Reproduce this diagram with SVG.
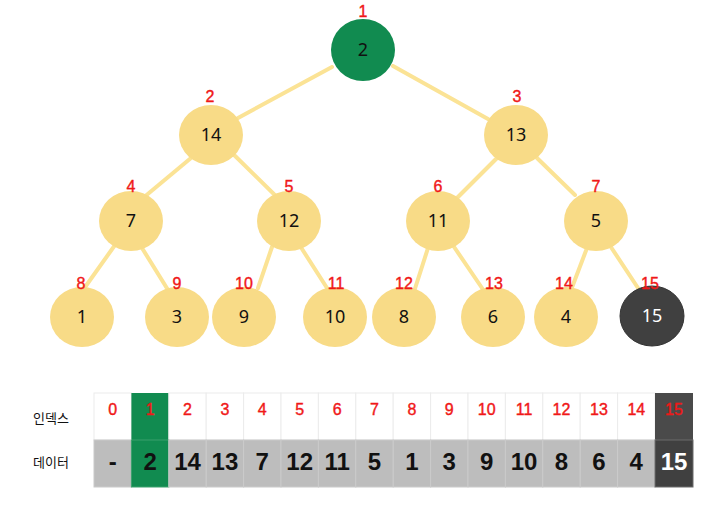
<svg xmlns="http://www.w3.org/2000/svg" width="720" height="518" viewBox="0 0 720 518">
<style>
.nd{fill:#f8db87;}
.gr{fill:#118b50;}
.dk{fill:#404040;stroke:#333;stroke-width:1;}
.nt{font-family:"Noto Sans","Liberation Sans",sans-serif;font-size:18px;fill:#111;text-anchor:middle;}
.ix{font-family:"Liberation Sans",sans-serif;font-size:16px;fill:#f01818;stroke:#f01818;stroke-width:0.4;text-anchor:middle;}
.ln{stroke:#fbe08a;stroke-width:4;stroke-linecap:round;opacity:0.9;}
.c1{fill:#fff;stroke:#ececec;stroke-width:1;}
.c2{fill:#bdbdbd;stroke:#cacaca;stroke-width:1;}
.dt{font-family:"Liberation Sans",sans-serif;font-weight:bold;font-size:24px;fill:#111;text-anchor:middle;}
.nt.wt,.dt.wt{fill:#fff;}
.lb{font-family:"Noto Sans CJK KR",sans-serif;font-size:13px;fill:#111;text-anchor:middle;}
</style>
<rect width="720" height="518" fill="#fff"/>
<g id="connectors">
<line class="ln" x1="332" y1="67" x2="238" y2="118"/>
<line class="ln" x1="393" y1="66" x2="488" y2="119"/>
<line class="ln" x1="203" y1="148" x2="137" y2="203"/>
<line class="ln" x1="227" y1="148" x2="285" y2="205"/>
<line class="ln" x1="503" y1="152" x2="450" y2="205"/>
<line class="ln" x1="537" y1="158" x2="575" y2="195"/>
<line class="ln" x1="120" y1="238" x2="83" y2="290"/>
<line class="ln" x1="142" y1="248" x2="173" y2="298"/>
<line class="ln" x1="272" y1="247" x2="258" y2="288"/>
<line class="ln" x1="295" y1="238" x2="327" y2="288"/>
<line class="ln" x1="428" y1="248" x2="412" y2="298"/>
<line class="ln" x1="448" y1="238" x2="482" y2="288"/>
<line class="ln" x1="587" y1="248" x2="568" y2="298"/>
<line class="ln" x1="603" y1="235" x2="638" y2="288"/>
</g>
<g id="n1"><ellipse class="gr" cx="363" cy="50" rx="32" ry="31"/><text class="nt" x="363" y="56">2</text><text class="ix" x="363" y="17">1</text></g>
<g id="n2"><ellipse class="nd" cx="211" cy="135" rx="32" ry="30"/><text class="nt" x="211" y="141">14</text><text class="ix" x="210" y="102">2</text></g>
<g id="n3"><ellipse class="nd" cx="516" cy="135" rx="32" ry="30"/><text class="nt" x="516" y="141">13</text><text class="ix" x="517" y="102">3</text></g>
<g id="n4"><ellipse class="nd" cx="131" cy="221" rx="32" ry="30"/><text class="nt" x="131" y="227">7</text><text class="ix" x="131" y="192">4</text></g>
<g id="n5"><ellipse class="nd" cx="289" cy="221" rx="32" ry="30"/><text class="nt" x="289" y="227">12</text><text class="ix" x="289" y="192">5</text></g>
<g id="n6"><ellipse class="nd" cx="438" cy="221" rx="32" ry="30"/><text class="nt" x="438" y="227">11</text><text class="ix" x="438" y="192">6</text></g>
<g id="n7"><ellipse class="nd" cx="596" cy="221" rx="32" ry="30"/><text class="nt" x="596" y="227">5</text><text class="ix" x="596" y="192">7</text></g>
<g id="n8"><ellipse class="nd" cx="82" cy="317" rx="32" ry="30"/><text class="nt" x="82" y="323">1</text><text class="ix" x="81" y="289">8</text></g>
<g id="n9"><ellipse class="nd" cx="177" cy="317" rx="32" ry="30"/><text class="nt" x="177" y="323">3</text><text class="ix" x="177" y="289">9</text></g>
<g id="n10"><ellipse class="nd" cx="244" cy="317" rx="32" ry="30"/><text class="nt" x="244" y="323">9</text><text class="ix" x="244" y="289">10</text></g>
<g id="n11"><ellipse class="nd" cx="335" cy="317" rx="32" ry="30"/><text class="nt" x="335" y="323">10</text><text class="ix" x="336" y="289">11</text></g>
<g id="n12"><ellipse class="nd" cx="404" cy="317" rx="32" ry="30"/><text class="nt" x="404" y="323">8</text><text class="ix" x="404" y="289">12</text></g>
<g id="n13"><ellipse class="nd" cx="493" cy="317" rx="32" ry="30"/><text class="nt" x="493" y="323">6</text><text class="ix" x="494" y="289">13</text></g>
<g id="n14"><ellipse class="nd" cx="566" cy="317" rx="32" ry="30"/><text class="nt" x="566" y="323">4</text><text class="ix" x="564" y="289">14</text></g>
<g id="n15"><ellipse class="dk" cx="652" cy="316" rx="32" ry="30"/><text class="nt wt" x="652" y="322">15</text><text class="ix" x="650" y="289">15</text></g>
<g id="table">
<text class="lb" x="51" y="423">인덱스</text>
<text class="lb" x="51" y="467">데이터</text>
<g id="row-index">
<rect class="c1" x="94" y="393" width="37.4" height="47"/>
<rect x="131.4" y="393" width="37.4" height="47" fill="#118b50"/>
<rect class="c1" x="168.8" y="393" width="37.4" height="47"/>
<rect class="c1" x="206.2" y="393" width="37.4" height="47"/>
<rect class="c1" x="243.6" y="393" width="37.4" height="47"/>
<rect class="c1" x="281" y="393" width="37.4" height="47"/>
<rect class="c1" x="318.4" y="393" width="37.4" height="47"/>
<rect class="c1" x="355.8" y="393" width="37.4" height="47"/>
<rect class="c1" x="393.2" y="393" width="37.4" height="47"/>
<rect class="c1" x="430.6" y="393" width="37.4" height="47"/>
<rect class="c1" x="468" y="393" width="37.4" height="47"/>
<rect class="c1" x="505.4" y="393" width="37.4" height="47"/>
<rect class="c1" x="542.8" y="393" width="37.4" height="47"/>
<rect class="c1" x="580.2" y="393" width="37.4" height="47"/>
<rect class="c1" x="617.6" y="393" width="37.4" height="47"/>
<rect x="655" y="393" width="38" height="47" fill="#4a4a4a"/>
<text class="ix" x="112.7" y="415">0</text>
<text class="ix" x="150.1" y="415">1</text>
<text class="ix" x="187.5" y="415">2</text>
<text class="ix" x="224.9" y="415">3</text>
<text class="ix" x="262.3" y="415">4</text>
<text class="ix" x="299.7" y="415">5</text>
<text class="ix" x="337.1" y="415">6</text>
<text class="ix" x="374.5" y="415">7</text>
<text class="ix" x="411.9" y="415">8</text>
<text class="ix" x="449.3" y="415">9</text>
<text class="ix" x="486.7" y="415">10</text>
<text class="ix" x="524.1" y="415">11</text>
<text class="ix" x="561.5" y="415">12</text>
<text class="ix" x="598.9" y="415">13</text>
<text class="ix" x="636.3" y="415">14</text>
<text class="ix" x="674" y="415">15</text>
</g>
<g id="row-data">
<rect class="c2" x="94" y="440" width="37.4" height="47"/>
<rect x="131.4" y="440" width="37.4" height="47" fill="#118b50" stroke="#3aa06c" stroke-width="1"/>
<rect class="c2" x="168.8" y="440" width="37.4" height="47"/>
<rect class="c2" x="206.2" y="440" width="37.4" height="47"/>
<rect class="c2" x="243.6" y="440" width="37.4" height="47"/>
<rect class="c2" x="281" y="440" width="37.4" height="47"/>
<rect class="c2" x="318.4" y="440" width="37.4" height="47"/>
<rect class="c2" x="355.8" y="440" width="37.4" height="47"/>
<rect class="c2" x="393.2" y="440" width="37.4" height="47"/>
<rect class="c2" x="430.6" y="440" width="37.4" height="47"/>
<rect class="c2" x="468" y="440" width="37.4" height="47"/>
<rect class="c2" x="505.4" y="440" width="37.4" height="47"/>
<rect class="c2" x="542.8" y="440" width="37.4" height="47"/>
<rect class="c2" x="580.2" y="440" width="37.4" height="47"/>
<rect class="c2" x="617.6" y="440" width="37.4" height="47"/>
<rect x="655" y="440" width="38" height="47" fill="#404040" stroke="#6a6a6a" stroke-width="1"/>
<text class="dt" x="112.7" y="470">-</text>
<text class="dt" x="150.1" y="470">2</text>
<text class="dt" x="187.5" y="470">14</text>
<text class="dt" x="224.9" y="470">13</text>
<text class="dt" x="262.3" y="470">7</text>
<text class="dt" x="299.7" y="470">12</text>
<text class="dt" x="337.1" y="470">11</text>
<text class="dt" x="374.5" y="470">5</text>
<text class="dt" x="411.9" y="470">1</text>
<text class="dt" x="449.3" y="470">3</text>
<text class="dt" x="486.7" y="470">9</text>
<text class="dt" x="524.1" y="470">10</text>
<text class="dt" x="561.5" y="470">8</text>
<text class="dt" x="598.9" y="470">6</text>
<text class="dt" x="636.3" y="470">4</text>
<text class="dt wt" x="674" y="470">15</text>
</g>
</g>
</svg>
